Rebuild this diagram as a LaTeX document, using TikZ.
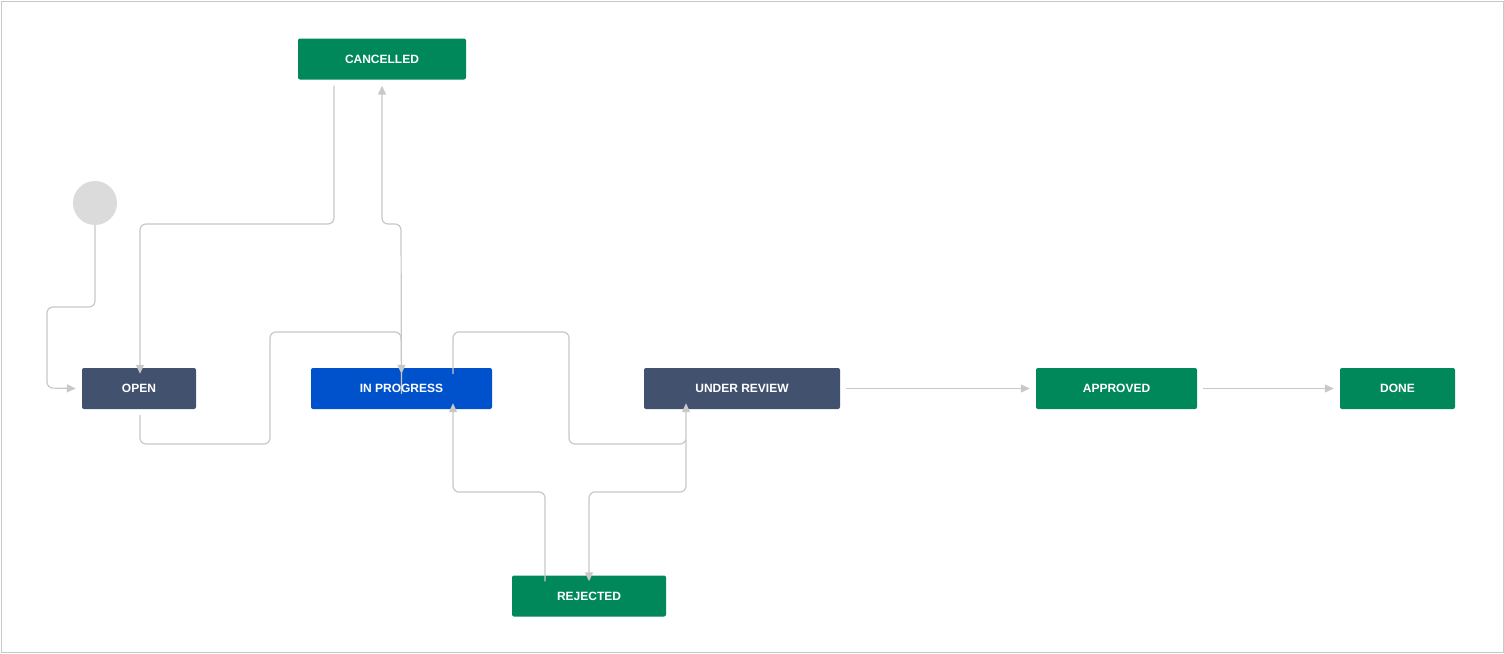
\documentclass[tikz,border=0pt]{standalone}
\usepackage{fontspec}
\setmainfont{Liberation Sans}
\usetikzlibrary{arrows.meta}
\definecolor{slate}{HTML}{42526E}
\definecolor{jblue}{HTML}{0052CC}
\definecolor{jgreen}{HTML}{00875A}
\definecolor{ln}{HTML}{C8C8C8}
\begin{document}
\begin{tikzpicture}[x=1pt,y=-1pt,
 st/.style={minimum height=41pt,rounded corners=2pt,text=white,font=\bfseries\fontsize{12}{14}\selectfont,inner sep=0pt},
 conn/.style={draw=ln,line width=1.2pt,rounded corners=6pt,-{Triangle[length=9pt,width=8pt]}}]
\useasboundingbox (0,0) rectangle (1504,653);
\draw[ln,line width=1pt] (1,1) rectangle (1503,652);
\node[circle,fill=ln!120!gray!90,minimum size=44pt,inner sep=0] (s) at (95,203) {};
\node[st,fill=jgreen,minimum width=168pt] (c) at (382,59) {CANCELLED};
\node[st,fill=slate,minimum width=114pt] (o) at (139,388.5) {OPEN};
\node[st,fill=jblue,minimum width=181pt] (p) at (401.5,388.5) {IN PROGRESS};
\node[st,fill=slate,minimum width=196pt] (u) at (742,388.5) {UNDER REVIEW};
\node[st,fill=jgreen,minimum width=161pt] (a) at (1116.5,388.5) {APPROVED};
\node[st,fill=jgreen,minimum width=115pt] (d) at (1397.5,388.5) {DONE};
\node[st,fill=jgreen,minimum width=154pt] (r) at (589,596) {REJECTED};
\draw[conn] (s.south) -- (95,307) -- (47,307) -- (47,388) -- ([xshift=-6pt]o.west);
\draw[conn] ([xshift=-48pt,yshift=-6pt]c.south) -- (334,224) -- (140,224) -- ([xshift=1pt,yshift=-6pt]o.north);
\draw[conn] ([xshift=1pt,yshift=-6pt]o.south) -- (140,444) -- (270,444) -- (270,332) -- (401,332) -- ([yshift=-6pt]p.north);
\draw[conn] ([yshift=-26pt]p.north) -- (401,224) -- (382,224) -- ([yshift=-6pt]c.south);
\draw[conn] ([xshift=51.5pt,yshift=-6pt]p.north) -- (453,332) -- (569,332) -- (569,444) -- (686,444) -- ([xshift=-56pt,yshift=6pt]u.south);
\draw[conn] ([xshift=-44pt,yshift=-6pt]r.north) -- (545,492) -- (453,492) -- ([xshift=51.5pt,yshift=6pt]p.south);
\draw[conn] (686,440) -- (686,492) -- (589,492) -- ([yshift=-6pt]r.north);
\draw[conn] ([xshift=6pt]u.east) -- ([xshift=-6pt]a.west);
\draw[conn] ([xshift=6pt]a.east) -- ([xshift=-6pt]d.west);
\end{tikzpicture}
\end{document}
